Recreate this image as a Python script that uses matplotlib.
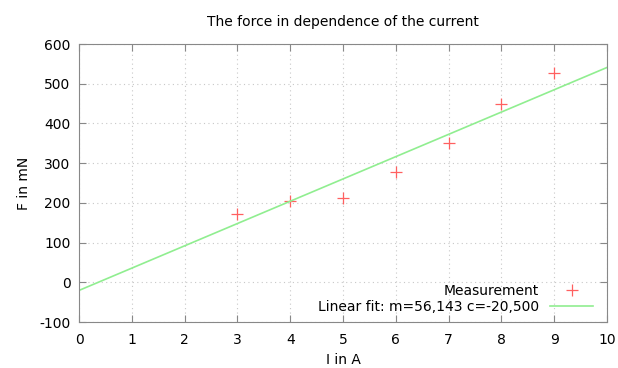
import numpy as np
import matplotlib.pyplot as plt

plt.rcParams['axes.unicode_minus'] = False

# measured force vs. current
current = [3, 4, 5, 6, 7, 8, 9]
force = [172, 205, 213, 277, 350, 450, 528]

# linear fit parameters
m = 56.143
c = -20.5

fig = plt.figure(figsize=(6.18, 3.68), dpi=100)
ax = fig.add_axes([79 / 618, 1 - 322 / 368, 528 / 618, 278 / 368])

ax.plot(current, force, linestyle='none', marker='+', color='#ff6060',
        markersize=8, markeredgewidth=0.9, label='Measurement')
x_fit = np.linspace(0, 10, 2)
ax.plot(x_fit, m * x_fit + c, color='#90ee90', lw=1.2,
        label='Linear fit: m=56,143 c=-20,500')

ax.set_xlim(0, 10)
ax.set_ylim(-100, 600)
ax.set_xticks(range(0, 11))
ax.set_yticks(range(-100, 601, 100))
ax.grid(True, color='#c8c8c8', linestyle=(0, (1, 3)), lw=0.8)
ax.tick_params(direction='in', top=True, right=True, length=5,
               color='#888888', labelsize=10, pad=6)
ax.tick_params(axis='x', pad=8)
for s in ax.spines.values():
    s.set_color('#888888')

ax.set_title('The force in dependence of the current', fontsize=10, pad=13)
ax.set_xlabel('I in A', fontsize=10, labelpad=4)
ax.set_ylabel('F in mN', fontsize=10, labelpad=6)

ax.legend(loc='lower right', frameon=False, markerfirst=False, fontsize=10,
          handlelength=3.1, borderaxespad=0.2, labelspacing=0.1,
          bbox_to_anchor=(0.99, 0.0))

fig.savefig('out.png', dpi=100)
